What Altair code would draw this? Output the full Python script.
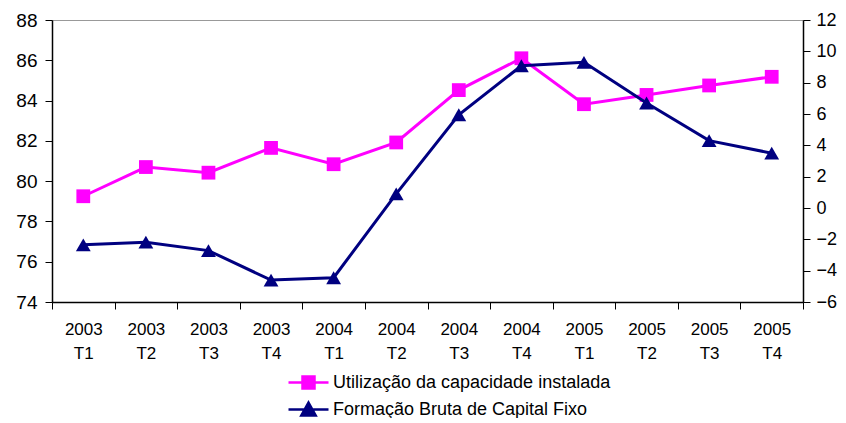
import altair as alt
import pandas as pd

periodos = ["2003 T1", "2003 T2", "2003 T3", "2003 T4",
            "2004 T1", "2004 T2", "2004 T3", "2004 T4",
            "2005 T1", "2005 T2", "2005 T3", "2005 T4"]
utilizacao = [79.25, 80.7, 80.42, 81.65, 80.84, 81.92, 84.52, 86.1, 83.82, 84.28, 84.75, 85.18]
fbcf = [-2.35, -2.18, -2.72, -4.6, -4.45, 0.9, 5.95, 9.08, 9.3, 6.7, 4.3, 3.5]
series = ["Utilização da capacidade instalada", "Formação Bruta de Capital Fixo"]
cores = ["#FF00FF", "#000080"]
left_ticks = [74, 76, 78, 80, 82, 84, 86, 88]
right_ticks = [-6, -4, -2, 0, 2, 4, 6, 8, 10, 12]

df = pd.DataFrame({"periodo": periodos, "util": utilizacao, "fbcf": fbcf})
df_leg = pd.DataFrame({"serie": series})

FONT = "Liberation Sans"

x_enc = alt.X("periodo:N", sort=periodos,
              scale=alt.Scale(paddingInner=0, paddingOuter=0),
              axis=alt.Axis(title=None, labelAngle=0, labelExpr="split(datum.label, ' ')",
                            labelFontSize=17, labelFont=FONT, labelColor="black",
                            labelLineHeight=24, labelPadding=12, tickBand="extent",
                            tickSize=7, tickColor="black", domainColor="black",
                            domainWidth=1.5, grid=False))

y_left = alt.Y("util:Q", scale=alt.Scale(domain=[74, 88], nice=False, zero=False),
               axis=alt.Axis(title=None, values=left_ticks, labelFontSize=19, labelFont=FONT,
                             labelColor="black", tickSize=7, tickColor="black", labelOverlap=False,
                             domainColor="black", domainWidth=1.5, labelPadding=8, grid=False))
y_right = alt.Y("fbcf:Q", scale=alt.Scale(domain=[-6, 12], nice=False, zero=False),
                axis=alt.Axis(title=None, orient="right", values=right_ticks, labelFontSize=18,
                              labelFont=FONT, labelColor="black", tickSize=7, tickColor="black",
                              labelOverlap=False, labelFlush=False,
                              domainColor="black", domainWidth=1.5, labelPadding=6, grid=False))

base = alt.Chart(df)

util_line = base.mark_line(color=cores[0], strokeWidth=3).encode(x=x_enc, y=y_left)
util_pts = base.mark_point(color=cores[0], shape="square", filled=True, size=190, opacity=1).encode(
    x=x_enc, y=y_left)

fbcf_line = base.mark_line(color=cores[1], strokeWidth=3).encode(x=x_enc, y=y_right)
fbcf_pts = base.mark_point(color=cores[1], shape="triangle-up", filled=True, size=220, opacity=1).encode(
    x=x_enc, y=y_right)

path_sq = "M-2,0H2M-0.6,-0.6H0.6V0.6H-0.6Z"
path_tri = "M-2,0H2M0,-0.7L0.72,0.6H-0.72Z"

leg_kw = dict(orient="none", legendX=245, legendY=351, direction="vertical", title=None,
              labelFontSize=18, labelFont=FONT, labelColor="black", symbolSize=400,
              symbolStrokeWidth=2.5, symbolOpacity=1, rowPadding=3, labelOffset=13,
              labelLimit=500)

legend_layer = alt.Chart(df_leg).mark_point(opacity=0, filled=True).encode(
    x=alt.value(0), y=alt.value(0),
    fill=alt.Fill("serie:N", sort=series, scale=alt.Scale(domain=series, range=cores),
                  legend=alt.Legend(**leg_kw)),
    stroke=alt.Stroke("serie:N", sort=series, scale=alt.Scale(domain=series, range=cores),
                      legend=alt.Legend(**leg_kw)),
    shape=alt.Shape("serie:N", sort=series, scale=alt.Scale(domain=series, range=[path_sq, path_tri]),
                    legend=alt.Legend(**leg_kw)),
)

left = alt.layer(util_line, util_pts)
right = alt.layer(fbcf_line, fbcf_pts)

chart = alt.layer(left, right, legend_layer).resolve_scale(y="independent").properties(
    width=751, height=282,
    autosize=alt.AutoSizeParams(type="none"),
    padding={"left": 44, "top": 12, "right": 35, "bottom": 116},
    background="white",
).configure_view(stroke="#999999", strokeWidth=1)

chart.save("out.html", embed_options={"renderer": "svg", "actions": False})
